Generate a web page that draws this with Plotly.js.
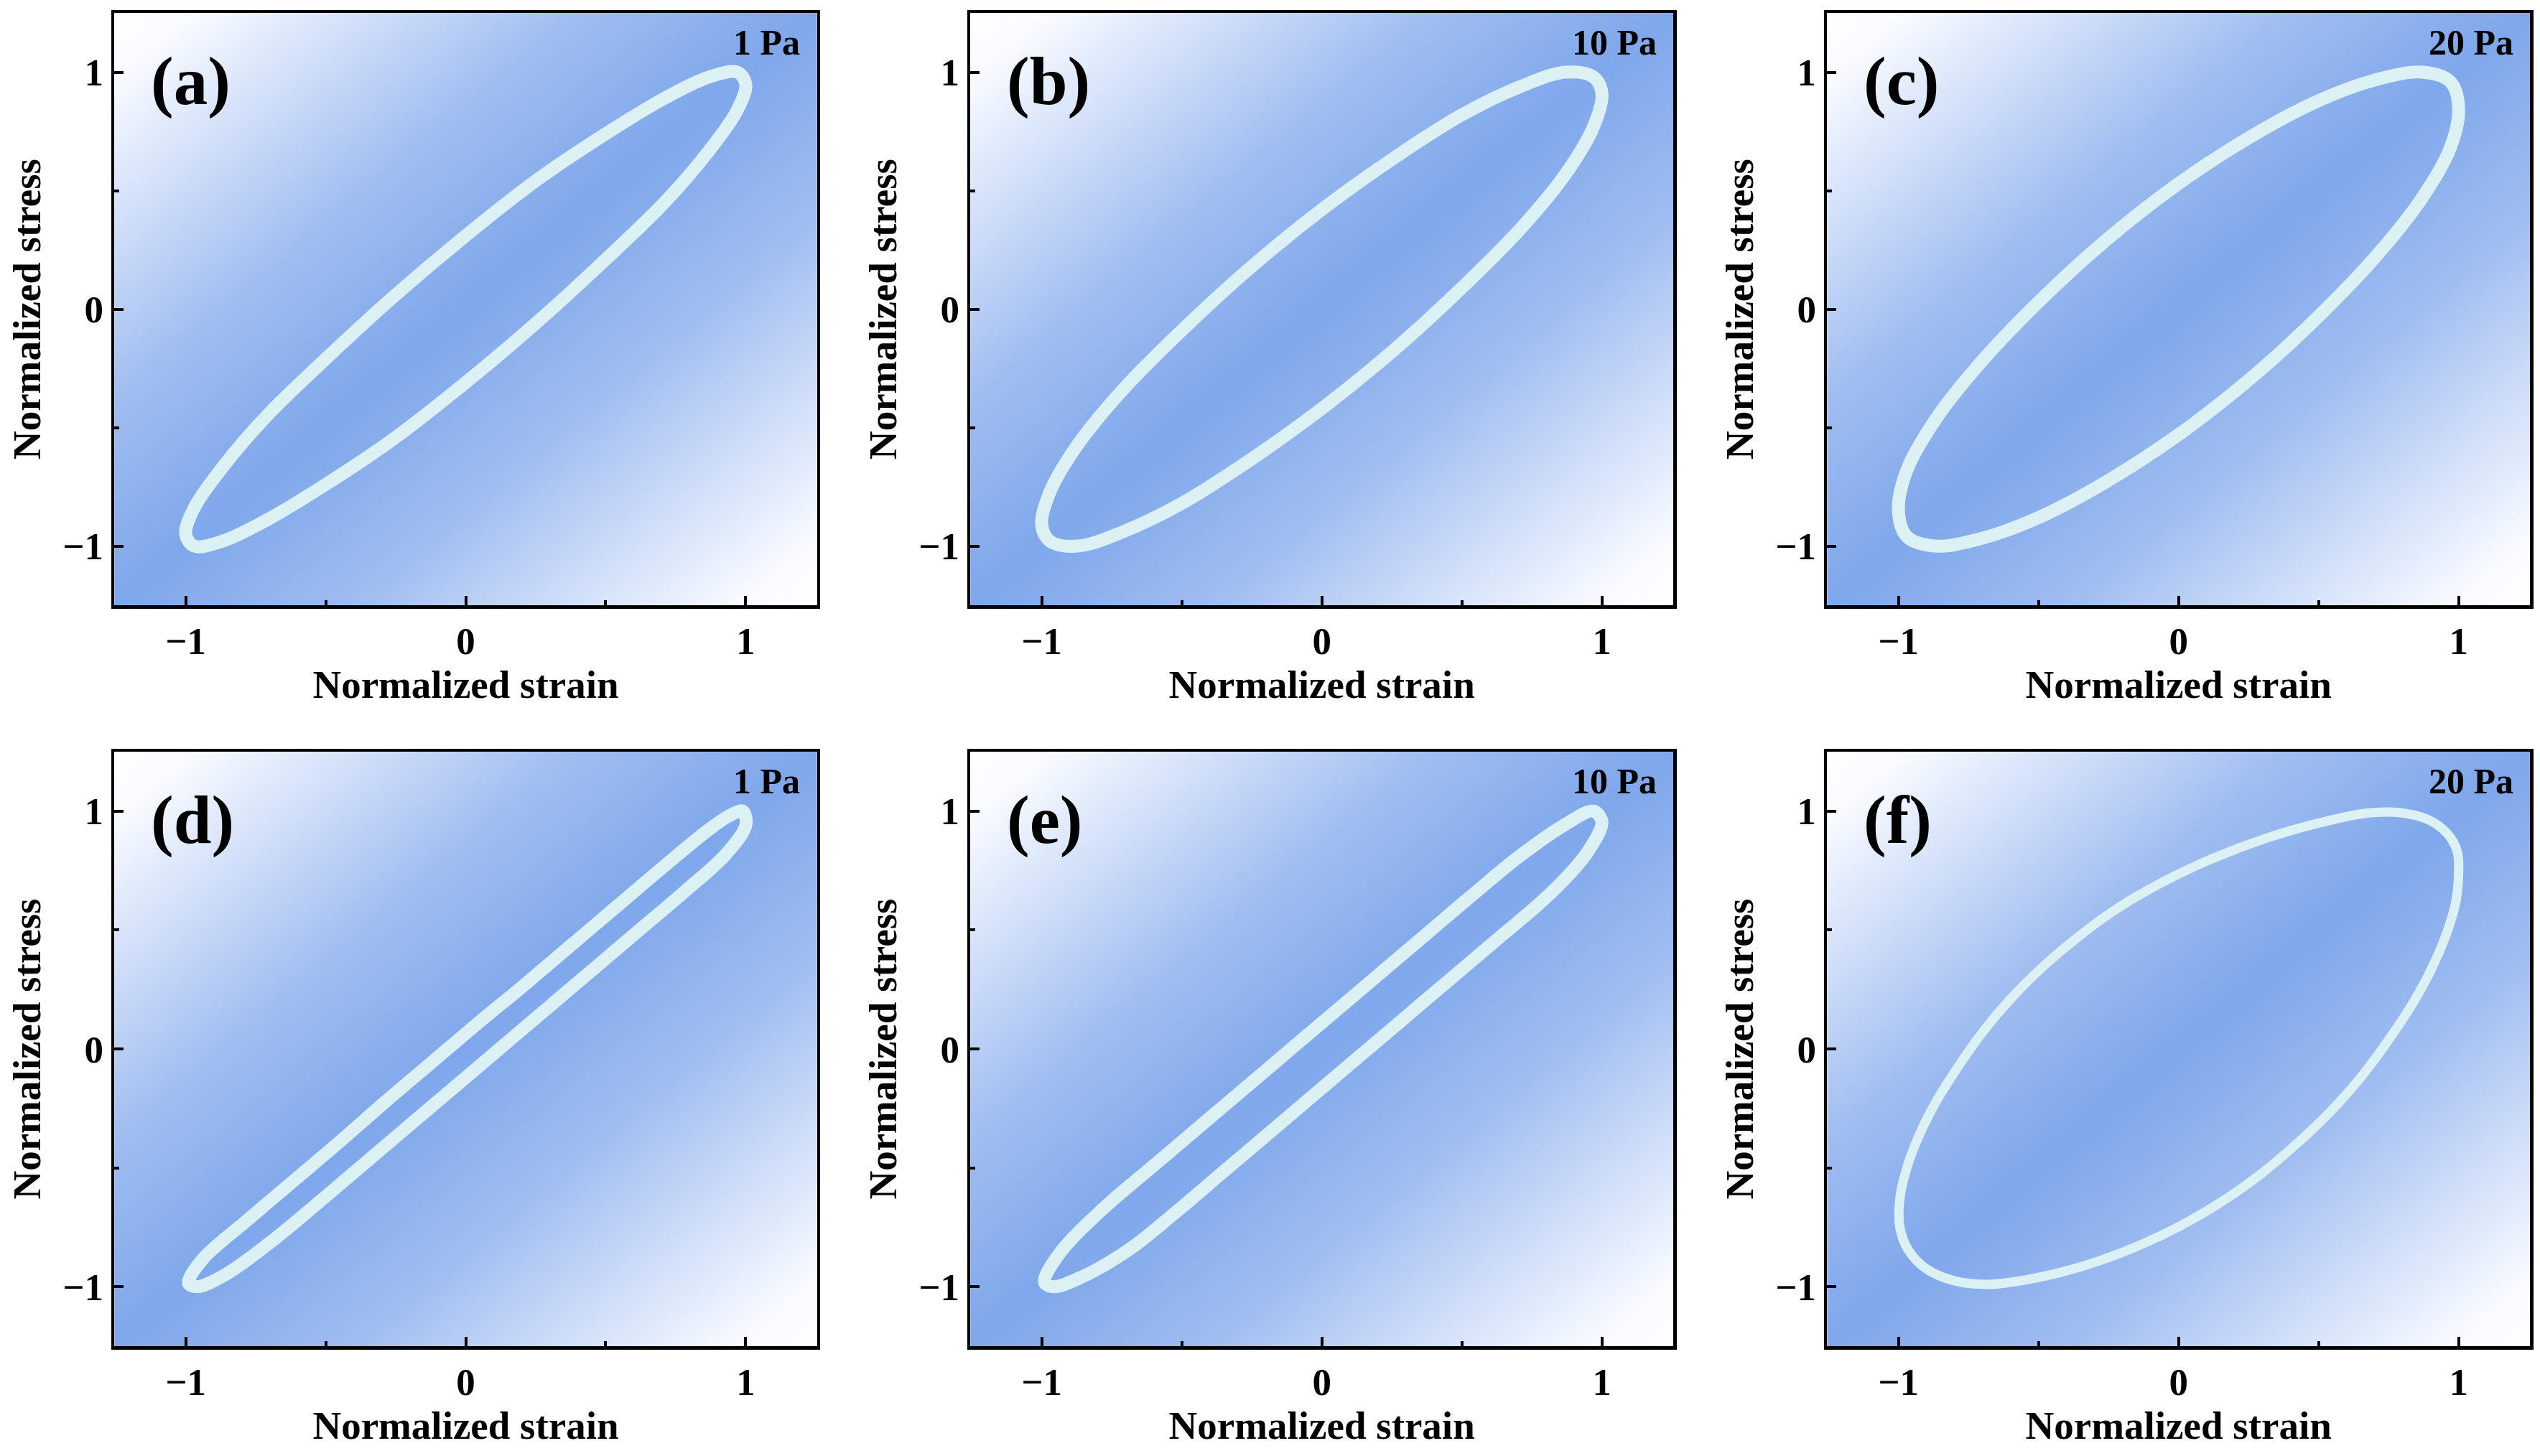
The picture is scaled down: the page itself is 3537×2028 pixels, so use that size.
<!DOCTYPE html>
<html>
<head>
<meta charset="utf-8">
<script src="https://cdn.plot.ly/plotly-3.0.1.min.js"></script>
<style>
  html, body { margin: 0; padding: 0; background: #fff; }
  #chart { width: 3537px; height: 2028px; }
</style>
</head>
<body>
<div id="chart"></div>
<script>
// LAOS loops (normalized strain / normalized stress)
const strainA = [0, 0.26, 0.50, 0.71, 0.87, 0.97, 1.00, 0.97, 0.87, 0.71, 0.50, 0.26, 0, -0.26, -0.50, -0.71, -0.87, -0.97, -1.00, -0.97, -0.87, -0.71, -0.50, -0.26, 0];
const stressA = [0.31, 0.55, 0.74, 0.89, 0.98, 1.00, 0.95, 0.84, 0.67, 0.45, 0.21, -0.05, -0.31, -0.55, -0.74, -0.89, -0.98, -1.00, -0.95, -0.84, -0.67, -0.45, -0.21, 0.05, 0.31];

const strainB = [0, 0.26, 0.50, 0.71, 0.87, 0.97, 1.00, 0.97, 0.87, 0.71, 0.50, 0.26, 0, -0.26, -0.50, -0.71, -0.87, -0.97, -1.00, -0.97, -0.87, -0.71, -0.50, -0.26, 0];
const stressB = [0.42, 0.64, 0.82, 0.94, 1.00, 0.98, 0.91, 0.77, 0.57, 0.34, 0.09, -0.17, -0.42, -0.64, -0.82, -0.94, -1.00, -0.98, -0.91, -0.77, -0.57, -0.34, -0.09, 0.17, 0.42];

const strainC = [0, 0.26, 0.50, 0.71, 0.87, 0.97, 1.00, 0.97, 0.87, 0.71, 0.50, 0.26, 0, -0.26, -0.50, -0.71, -0.87, -0.97, -1.00, -0.97, -0.87, -0.71, -0.50, -0.26, 0];
const stressC = [0.53, 0.73, 0.88, 0.97, 1.00, 0.96, 0.85, 0.68, 0.47, 0.23, -0.03, -0.29, -0.53, -0.73, -0.88, -0.97, -1.00, -0.96, -0.85, -0.68, -0.47, -0.23, 0.03, 0.29, 0.53];

const strainD = [-0.99, -0.94, -0.78, -0.615, -0.45, -0.29, -0.12, 0.04, 0.205, 0.37, 0.53, 0.70, 0.86, 0.94, 0.99, 1.00, 0.93, 0.78, 0.615, 0.45, 0.29, 0.12, -0.04, -0.205, -0.37, -0.53, -0.70, -0.86, -0.96, -0.99];
const stressD = [-0.985, -0.885, -0.72, -0.555, -0.39, -0.225, -0.055, 0.105, 0.265, 0.43, 0.59, 0.76, 0.915, 0.98, 1.00, 0.94, 0.82, 0.66, 0.495, 0.33, 0.17, 0.0, -0.16, -0.325, -0.49, -0.65, -0.815, -0.95, -1.00, -0.985];

const strainE = [-0.99, -0.93, -0.77, -0.61, -0.44, -0.28, -0.115, 0.05, 0.21, 0.38, 0.54, 0.705, 0.87, 0.97, 1.00, 0.95, 0.88, 0.785, 0.62, 0.46, 0.295, 0.13, -0.03, -0.195, -0.36, -0.525, -0.69, -0.85, -0.96, -0.99];
const stressE = [-0.98, -0.85, -0.66, -0.50, -0.33, -0.17, -0.005, 0.16, 0.32, 0.49, 0.65, 0.81, 0.945, 1.00, 0.955, 0.83, 0.73, 0.62, 0.455, 0.295, 0.13, -0.035, -0.195, -0.36, -0.525, -0.69, -0.845, -0.955, -1.00, -0.98];

const strainF = [1.00, 0.99, 0.955, 0.90, 0.83, 0.745, 0.65, 0.545, 0.43, 0.30, 0.15, -0.02, -0.20, -0.39, -0.54, -0.68, -0.80, -0.90, -0.965, -0.995, -0.995, -0.97, -0.925, -0.865, -0.79, -0.70, -0.60, -0.485, -0.36, -0.22, -0.06, 0.12, 0.31, 0.50, 0.66, 0.78, 0.89, 0.96, 0.995, 1.00];
const stressF = [0.75, 0.62, 0.48, 0.33, 0.18, 0.03, -0.12, -0.26, -0.39, -0.52, -0.645, -0.76, -0.855, -0.93, -0.97, -0.99, -0.975, -0.925, -0.845, -0.75, -0.63, -0.50, -0.36, -0.22, -0.08, 0.07, 0.21, 0.345, 0.47, 0.59, 0.70, 0.80, 0.885, 0.95, 0.99, 0.995, 0.965, 0.905, 0.83, 0.75];

const panelLabels = ['(a)', '(b)', '(c)', '(d)', '(e)', '(f)'];
const stressLevels = ['1 Pa', '10 Pa', '20 Pa', '1 Pa', '10 Pa', '20 Pa'];
const xTitle = 'Normalized strain';
const yTitle = 'Normalized stress';

const loops = [
  [strainA, stressA], [strainB, stressB], [strainC, stressC],
  [strainD, stressD], [strainE, stressE], [strainF, stressF],
];

const FONT = '"Liberation Serif", "Times New Roman", serif';
const cols = [[0.045, 0.3217], [0.382, 0.6588], [0.7193, 0.9961]];
const rows = [[0.5843, 0.9911], [0.0754, 0.4837]];

// diagonal white -> blue -> white background of each panel
const gradSvg = '<svg xmlns="http://www.w3.org/2000/svg" width="100" height="100" viewBox="0 0 100 100" preserveAspectRatio="none">' +
  '<defs><linearGradient id="g" x1="0" y1="0" x2="1" y2="1">' +
  '<stop offset="0" stop-color="#ffffff"/><stop offset="0.06" stop-color="#f8faff"/>' +
  '<stop offset="0.33" stop-color="#a0bdf0"/><stop offset="0.5" stop-color="#7fa7eb"/>' +
  '<stop offset="0.67" stop-color="#a0bdf0"/><stop offset="0.94" stop-color="#f8faff"/>' +
  '<stop offset="1" stop-color="#ffffff"/>' +
  '</linearGradient></defs><rect width="100" height="100" fill="url(#g)"/></svg>';
const gradSrc = 'data:image/svg+xml;base64,' + btoa(gradSvg);

const axisBase = {
  showgrid: false, zeroline: false,
  showline: true, linecolor: '#000', linewidth: 4.5, mirror: true,
  ticks: 'inside', ticklen: 13, tickwidth: 4, tickcolor: '#000',
  tickmode: 'linear', tick0: 0, dtick: 1,
  minor: { ticks: 'inside', dtick: 0.5, tick0: 0, ticklen: 7, tickwidth: 4, tickcolor: '#000' },
  tickfont: { family: FONT, size: 53, color: '#000', weight: 'bold' },
  fixedrange: true,
};

const traces = [];
const layout = {
  width: 3537, height: 2028,
  margin: { l: 0, r: 0, t: 0, b: 0 },
  paper_bgcolor: '#fff', plot_bgcolor: 'rgba(0,0,0,0)',
  showlegend: false,
  annotations: [], images: [],
};

loops.forEach(([xs, ys], i) => {
  const s = i === 0 ? '' : String(i + 1);
  layout['xaxis' + s] = {
    ...axisBase, domain: cols[i % 3], anchor: 'y' + s, range: [-1.255, 1.255],
    title: { text: xTitle, font: { family: FONT, size: 55, color: '#000', weight: 'bold' }, standoff: 14 },
  };
  layout['yaxis' + s] = {
    ...axisBase, domain: rows[Math.floor(i / 3)], anchor: 'x' + s, range: [-1.25, 1.25],
    title: { text: yTitle, font: { family: FONT, size: 55, color: '#000', weight: 'bold' }, standoff: 14 },
  };
  traces.push({
    x: xs, y: ys, xaxis: 'x' + s, yaxis: 'y' + s,
    type: 'scatter', mode: 'lines', hoverinfo: 'skip',
    line: { color: '#dbf1f3', width: i === 5 ? 13 : 18, shape: 'spline', smoothing: 1 },
  });
  layout.images.push({
    source: gradSrc, xref: 'x' + s + ' domain', yref: 'y' + s + ' domain',
    x: 0, y: 1, sizex: 1, sizey: 1, xanchor: 'left', yanchor: 'top',
    sizing: 'stretch', layer: 'below',
  });
  layout.annotations.push({
    xref: 'x' + s + ' domain', yref: 'y' + s + ' domain', x: 0.05, y: 0.885,
    xanchor: 'left', yanchor: 'middle', showarrow: false, text: panelLabels[i],
    font: { family: FONT, size: 95, color: '#000', weight: 'bold' },
  });
  layout.annotations.push({
    xref: 'x' + s + ' domain', yref: 'y' + s + ' domain', x: 0.978, y: 0.95,
    xanchor: 'right', yanchor: 'middle', showarrow: false, text: stressLevels[i],
    font: { family: FONT, size: 50, color: '#000', weight: 'bold' },
  });
});

Plotly.newPlot('chart', traces, layout, { displayModeBar: false, staticPlot: true });
</script>
</body>
</html>
